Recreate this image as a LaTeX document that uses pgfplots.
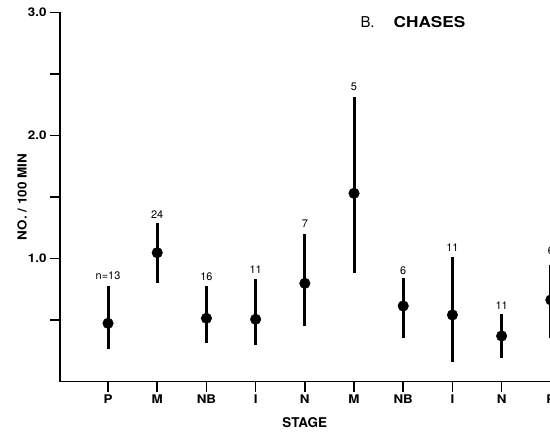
\documentclass[border=0pt]{standalone}
\usepackage{pgfplots}
\usepackage{pgfplotstable}
\pgfplotsset{compat=1.18}
\usepackage{fontspec}
\setmainfont{TeX Gyre Heros}

% stage index, mean rate, upper and lower limits, n and label height
\pgfplotstableread{
x  y      hi     lo     ly     lab
0  0.473  0.776  0.262  0.858  n=13
1  1.047  1.291  0.798  1.354  24
2  0.514  0.779  0.311  0.850  16
3  0.506  0.831  0.297  0.907  11
4  0.798  1.199  0.451  1.280  7
5  1.530  2.315  0.880  2.394  5
6  0.614  0.839  0.351  0.898  6
7  0.541  1.012  0.161  1.085  11
8  0.370  0.549  0.189  0.614  11
9  0.663  0.947  0.354  1.061  6
}\chases

% hand-lettered look: slightly widened bold sans
\newcommand{\wide}[1]{\scalebox{1.12}[1]{#1}}

\begin{document}
\begin{tikzpicture}
\useasboundingbox (0,0) rectangle (550bp,438bp);
\clip (0,0) rectangle (550bp,438bp);
\begin{axis}[
  x=49.2bp, y=123bp,
  at={(60bp,56.5bp)}, anchor=south west,
  xmin=-0.976, xmax=9.8, ymin=0, ymax=3,
  axis lines=left,
  axis line style={-, line width=1.8bp},
  xtick={0,...,9},
  xticklabels={\wide{P},\wide{M},\wide{NB},\wide{I},\wide{N},\wide{M},\wide{NB},\wide{I},\wide{N},\wide{P}},
  ytick={0.5,1,1.5,2,2.5,3},
  yticklabels={,\wide{1.0},,\wide{2.0},,\wide{3.0}},
  tick align=outside,
  major tick length=10bp,
  tick style={line width=1.6bp, black},
  ticklabel style={font=\bfseries\fontsize{12}{14}\selectfont},
  /pgf/number format/assume math mode=true,
  clip=false,
  xlabel={STAGE},
  every axis x label/.style={at={(axis cs:4,0)}, anchor=north, yshift=-33bp,
    font=\bfseries\fontsize{13.5}{16}\selectfont},
  ylabel={\scalebox{1.08}[1]{NO. / 100 MIN}},
  every axis y label/.style={at={(axis cs:-1.748,1.5)}, anchor=center, rotate=90,
    font=\bfseries\fontsize{12.5}{15}\selectfont},
]
\addplot[only marks, mark=*, mark size=5.3bp, black,
  error bars/.cd, y dir=both, y explicit, error mark=none,
  error bar style={line width=3bp, black}]
  table[x=x, y=y,
        y error plus expr=\thisrow{hi}-\thisrow{y},
        y error minus expr=\thisrow{y}-\thisrow{lo}] {\chases};
\addplot[draw=none, mark=none, nodes near coords, point meta=explicit symbolic,
  every node near coord/.style={anchor=center, inner sep=0pt,
    font=\fontsize{11}{13}\selectfont}]
  table[x=x, y=ly, meta=lab] {\chases};
\end{axis}
\node[anchor=base west, font=\fontsize{15}{18}\selectfont]
  at (357bp,410bp) {B.\hspace{19bp}\textbf{\scalebox{1.15}[1]{CHASES}}};
\end{tikzpicture}
\end{document}
